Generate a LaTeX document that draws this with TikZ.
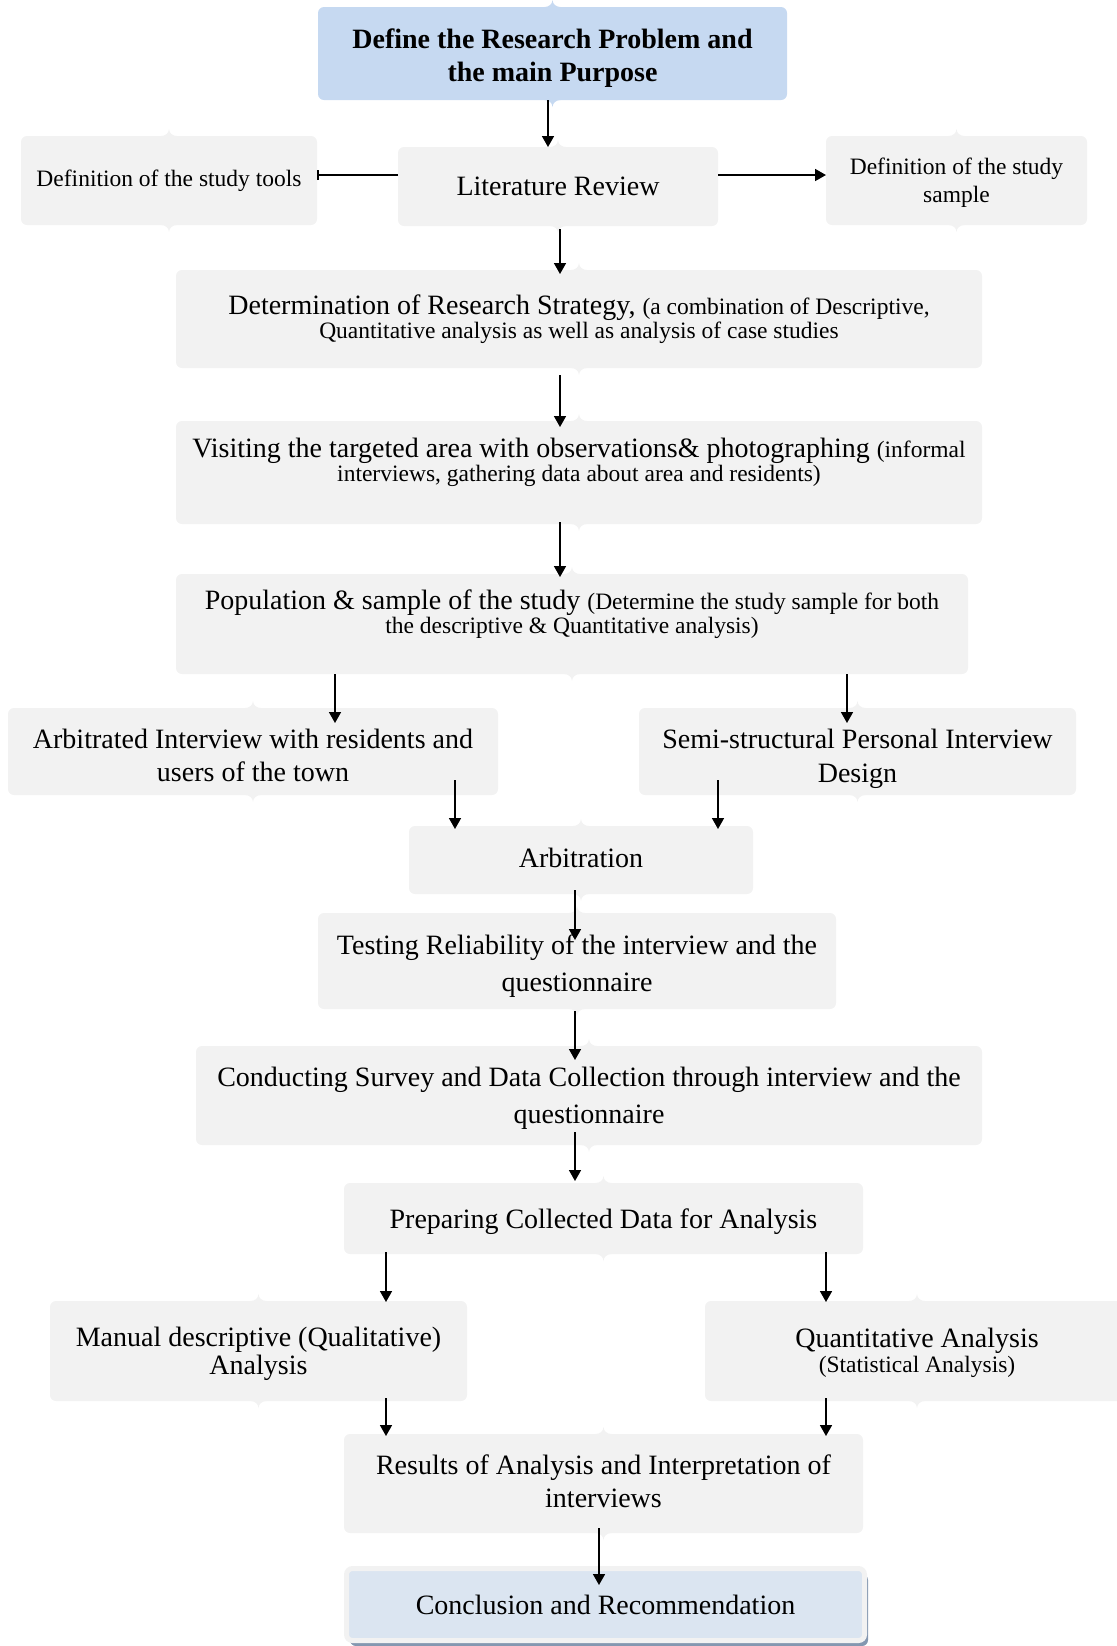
\documentclass[tikz,border=0pt]{standalone}
\usepackage{fontspec}
\setmainfont{Liberation Serif}
\usetikzlibrary{arrows.meta,positioning,shadows}
\definecolor{boxgrey}{HTML}{F2F2F2}
\definecolor{headblue}{HTML}{C6D9F1}
\definecolor{endblue}{HTML}{DBE5F1}
\definecolor{endshade}{HTML}{8497B0}
\newcommand{\subtxt}[1]{{\fontsize{11.75}{12}\selectfont #1}}
\newcommand{\lifttop}[1]{\rule{0pt}{#1}}
\newcommand{\dropend}[1]{\rule[-#1]{0pt}{#1}}
\tikzset{
  stepbox/.style={rectangle,rounded corners=3pt,fill=#1,draw=none,inner sep=2pt,outer sep=0pt,
    align=center,text=black},
  stepbox/.default={boxgrey},
  lh/.style={font=\fontsize{14}{#1}\selectfont},
  lh/.default={16.8},
  sidetxt/.style={font=\fontsize{11.75}{14}\selectfont},
  flow/.style={-{Triangle[length=5.5pt,width=6pt]},line width=0.85pt},
  barflow/.style={-{Bar[width=5pt]},line width=0.85pt},
}

\begin{document}
\begin{tikzpicture}
  \useasboundingbox (0,0) rectangle (558.5pt,-823pt);
  \node[stepbox=headblue,minimum width=234.5pt,minimum height=46.5pt,
    font=\bfseries\fontsize{14}{16.3}\selectfont] (top) at (276.25pt,-26.75pt)
    {\lifttop{14.7pt}Define the Research Problem and\\the main Purpose};
  \node[stepbox,lh,minimum width=160pt,minimum height=39.5pt,below=23.5pt of top,xshift=2.75pt] (lit)
    {Literature Review};
  \node[stepbox,sidetxt,minimum width=148pt,minimum height=44.5pt,left=40.5pt of lit,yshift=3pt] (tools)
    {Definition of the study tools};
  \node[stepbox,sidetxt,minimum width=130.5pt,minimum height=44.5pt,right=54pt of lit,yshift=3pt] (sample)
    {\lifttop{10.6pt}Definition of the study\\sample};
  \node[stepbox,lh=12,minimum width=403pt,minimum height=49pt,below=22pt of lit,xshift=10.5pt] (strat)
    {Determination of Research Strategy, \subtxt{(a combination of Descriptive,}\\
     \subtxt{Quantitative analysis as well as analysis of case studies}};
  \node[stepbox,lh=12,minimum width=403pt,minimum height=51.5pt,below=26.5pt of strat] (visit)
    {Visiting the targeted area with observations\& photographing \subtxt{(informal}\\
     \subtxt{interviews, gathering data about area and residents)}\dropend{12.5pt}};
  \node[stepbox,lh=12,minimum width=396pt,minimum height=50pt,below=25pt of visit,xshift=-3.5pt] (pop)
    {Population \& sample of the study \subtxt{(Determine the study sample for both}\\
     \subtxt{the descriptive \& Quantitative analysis)}\dropend{12pt}};
  \node[stepbox,lh,minimum width=245pt,minimum height=43.5pt,below=17pt of pop,xshift=-159.5pt] (arbint)
    {\lifttop{13.8pt}Arbitrated Interview with residents and\\users of the town};
  \node[stepbox,lh,minimum width=218.5pt,minimum height=43.5pt,below=17pt of pop,xshift=142.75pt] (semi)
    {\lifttop{17pt}Semi-structural Personal Interview\\Design};
  \node[stepbox,lh,minimum width=172pt,minimum height=34pt,below=76pt of pop,xshift=4.5pt] (arbit)
    {Arbitration\dropend{2.6pt}};
  \node[stepbox,lh=18.4,minimum width=259pt,minimum height=48pt,below=9.5pt of arbit,xshift=-2pt] (test)
    {\lifttop{14.8pt}Testing Reliability of the interview and the\\questionnaire};
  \node[stepbox,lh=18.4,minimum width=393pt,minimum height=49.5pt,below=18.5pt of test,xshift=6pt] (cond)
    {\lifttop{12.8pt}Conducting Survey and Data Collection through interview and the\\questionnaire};
  \node[stepbox,lh,minimum width=259.5pt,minimum height=35.5pt,below=19pt of cond,xshift=7.25pt] (prep)
    {\lifttop{12.8pt}Preparing Collected Data for Analysis};
  \node[stepbox,lh=14,minimum width=208.5pt,minimum height=50pt,below=23.5pt of prep,xshift=-172.5pt] (manual)
    {\lifttop{12.2pt}Manual descriptive (Qualitative)\\Analysis};
  \node[stepbox,lh=12.5,minimum width=212pt,minimum height=50pt,below=23.5pt of prep,xshift=156.75pt] (quant)
    {\lifttop{11.6pt}Quantitative Analysis\\\subtxt{(Statistical Analysis)}};
  \node[stepbox,lh=16.3,minimum width=259.5pt,minimum height=49.5pt,below=90pt of prep] (results)
    {Results of Analysis and Interpretation of\\interviews\dropend{2.6pt}};
  \node[stepbox=endblue,lh,draw=boxgrey,line width=2.5pt,minimum width=259pt,minimum height=36pt,
    drop shadow={shadow xshift=1.75pt,shadow yshift=-2.75pt,fill=endshade,opacity=1},
    below=17.75pt of results,xshift=1pt] (concl)
    {Conclusion and Recommendation};

  \foreach \n/\c in {top/headblue,lit/boxgrey,tools/boxgrey,sample/boxgrey,strat/boxgrey,
      visit/boxgrey,pop/boxgrey,arbint/boxgrey,semi/boxgrey,arbit/boxgrey,test/boxgrey,
      cond/boxgrey,prep/boxgrey,manual/boxgrey,quant/boxgrey,results/boxgrey}{
    \fill[\c] ([xshift=-4pt]\n.north) to[out=0,in=-90] ([yshift=3.5pt]\n.north)
      to[out=-90,in=180] ([xshift=4pt]\n.north) -- cycle;
    \fill[\c] ([xshift=-4pt]\n.south) to[out=0,in=90] ([yshift=-3.5pt]\n.south)
      to[out=90,in=180] ([xshift=4pt]\n.south) -- cycle;
  }

  \draw[flow] ([xshift=-2.25pt]top.south) -- ([xshift=-2.25pt]top.south |- lit.north);
  \draw[barflow] ([yshift=5.75pt]lit.west) -- ([yshift=5.75pt]lit.west -| tools.east);
  \draw[flow] ([yshift=5.75pt]lit.east) -- ([yshift=5.75pt]lit.east -| sample.west);
  \draw[flow,shorten <=1.5pt,shorten >=-2pt] ([xshift=1pt]lit.south) -- ([xshift=1pt]lit.south |- strat.north);
  \draw[flow,shorten <=3.5pt,shorten >=-3pt] ([xshift=-9.5pt]strat.south) -- ([xshift=-9.5pt]strat.south |- visit.north);
  \draw[flow,shorten <=-1pt,shorten >=-1.5pt] ([xshift=-9.5pt]visit.south) -- ([xshift=-9.5pt]visit.south |- pop.north);
  \draw[flow,shorten >=-7.5pt] ([xshift=-118.5pt]pop.south) -- ([xshift=-118.5pt]pop.south |- arbint.north);
  \draw[flow,shorten >=-7.5pt] ([xshift=137.5pt]pop.south) -- ([xshift=137.5pt]pop.south |- semi.north);
  \draw[flow,shorten <=-7.5pt,shorten >=-1.5pt] ([xshift=101pt]arbint.south) -- ([xshift=101pt]arbint.south |- arbit.north);
  \draw[flow,shorten <=-7.5pt,shorten >=-1.5pt] ([xshift=-69.75pt]semi.south) -- ([xshift=-69.75pt]semi.south |- arbit.north);
  \draw[flow,shorten <=-2pt,shorten >=-13.5pt] ([xshift=-3pt]arbit.south) -- ([xshift=-3pt]arbit.south |- test.north);
  \draw[flow,shorten <=1pt,shorten >=-7pt] ([xshift=-1pt]test.south) -- ([xshift=-1pt]test.south |- cond.north);
  \draw[flow,shorten <=-6.5pt,shorten >=1pt] ([xshift=-7pt]cond.south) -- ([xshift=-7pt]cond.south |- prep.north);
  \draw[flow,shorten <=-1pt,shorten >=-0.5pt] ([xshift=-108.75pt]prep.south) -- ([xshift=-108.75pt]prep.south |- manual.north);
  \draw[flow,shorten <=-1pt,shorten >=-0.5pt] ([xshift=111.25pt]prep.south) -- ([xshift=111.25pt]prep.south |- quant.north);
  \draw[flow,shorten <=-1.5pt,shorten >=-1pt] ([xshift=63.75pt]manual.south) -- ([xshift=63.75pt]manual.south |- results.north);
  \draw[flow,shorten <=-1.5pt,shorten >=-1pt] ([xshift=-45.5pt]quant.south) -- ([xshift=-45.5pt]quant.south |- results.north);
  \draw[flow,shorten <=-2.5pt,shorten >=-8.25pt] ([xshift=-2.25pt]results.south) -- ([xshift=-2.25pt]results.south |- concl.north);
\end{tikzpicture}
\end{document}
